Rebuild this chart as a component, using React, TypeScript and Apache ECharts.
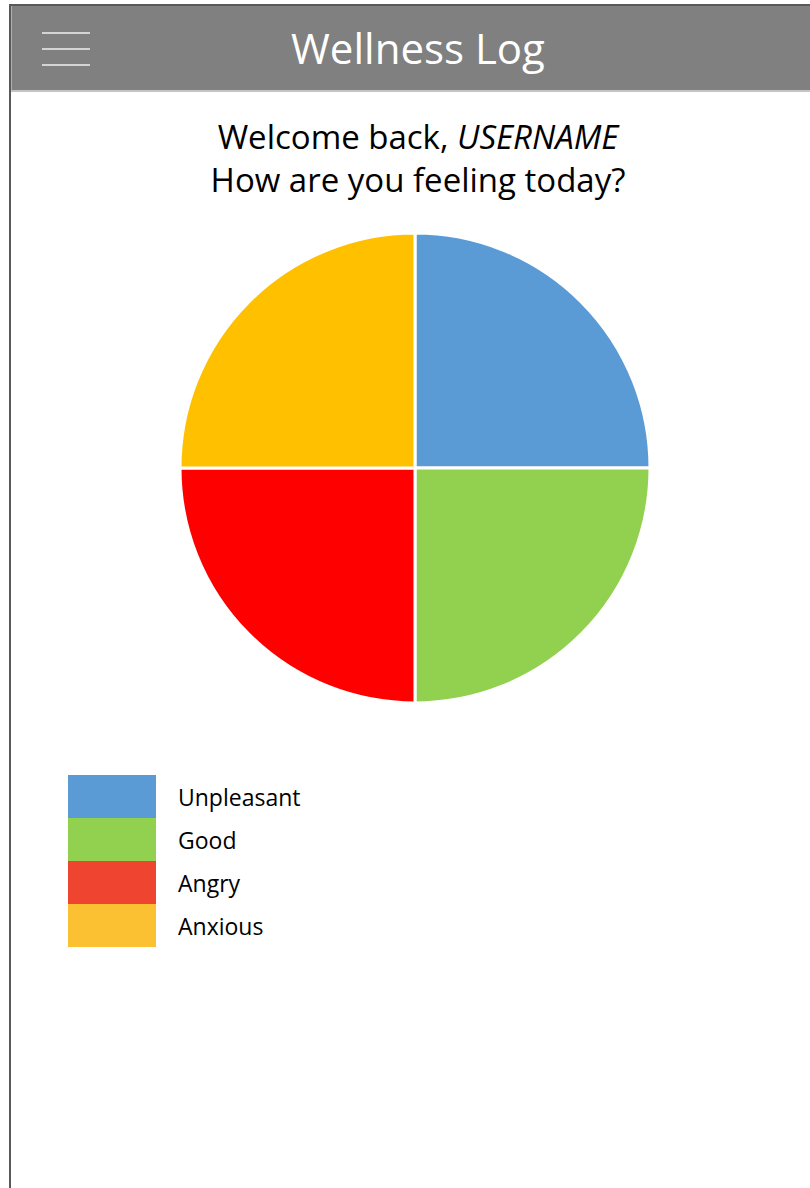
import React, { useEffect, useRef } from "react";
import * as echarts from "echarts";

const categories = ["Unpleasant", "Good", "Angry", "Anxious"];
const values = [25, 25, 25, 25];
const sliceColors = ["#5B9BD5", "#92D050", "#FF0000", "#FFC000"];
const legendColors = ["#5B9BD5", "#92D050", "#EE4430", "#FBC133"];
const headerTitle = "Wellness Log";
const welcomeText = "Welcome back, ";
const userName = "USERNAME";
const questionText = "How are you feeling today?";

const FONT = "'Open Sans', 'Noto Sans', sans-serif";

export default function App() {
  const ref = useRef<HTMLDivElement>(null);

  useEffect(() => {
    if (!ref.current) return;
    const chart = echarts.init(ref.current, null, { renderer: "svg" });
    const option: any = {
      animation: false,
      backgroundColor: "#ffffff",
      title: [
        {
          text: headerTitle,
          left: 413,
          top: 21,
          textAlign: "center",
          textStyle: { color: "#ffffff", fontSize: 42, fontWeight: "normal", fontFamily: FONT },
        },
        {
          text: `{a|${welcomeText}}{b|${userName}}\n{a|${questionText}}`,
          left: 413,
          top: 110,
          textAlign: "center",
          textStyle: {
            fontWeight: "normal",
            rich: {
              a: { fontSize: 33, color: "#000", fontFamily: FONT, fontWeight: "normal", lineHeight: 43 },
              b: { fontSize: 33, color: "#000", fontFamily: FONT, fontWeight: "normal", fontStyle: "italic", lineHeight: 43 },
            },
          },
        },
      ],
      legend: {
        orient: "vertical",
        left: 68,
        top: 775,
        padding: 0,
        itemGap: 0,
        itemWidth: 88,
        itemHeight: 43,
        icon: "rect",
        selectedMode: false,
        itemStyle: { borderWidth: 0 },
        textStyle: { fontSize: 23, color: "#000", fontFamily: FONT, padding: [2, 0, 0, 17] },
        data: categories.map((c, i) => ({
          name: c,
          itemStyle: { color: legendColors[i], borderWidth: 0 },
        })),
      },
      graphic: [
        { type: "rect", shape: { x: 11, y: 6, width: 799, height: 84 }, style: { fill: "#808080" }, silent: true },
        { type: "rect", shape: { x: 11, y: 90, width: 799, height: 2 }, style: { fill: "#C4C4C4" }, silent: true },
        { type: "rect", shape: { x: 11, y: 6, width: 1, height: 84 }, style: { fill: "#B0B0B0" }, silent: true },
        { type: "rect", shape: { x: 9, y: 4, width: 801, height: 2 }, style: { fill: "#595959" }, silent: true },
        { type: "rect", shape: { x: 9, y: 4, width: 2, height: 1184 }, style: { fill: "#595959" }, silent: true },
        { type: "rect", shape: { x: 42, y: 32, width: 48, height: 2 }, style: { fill: "#D4D4D4" }, silent: true },
        { type: "rect", shape: { x: 42, y: 48, width: 48, height: 2 }, style: { fill: "#D4D4D4" }, silent: true },
        { type: "rect", shape: { x: 42, y: 64, width: 48, height: 2 }, style: { fill: "#D4D4D4" }, silent: true },
      ],
      series: [
        {
          type: "pie",
          center: [415, 468],
          radius: [0, 235],
          startAngle: 90,
          clockwise: true,
          label: { show: false },
          labelLine: { show: false },
          emphasis: { disabled: true },
          itemStyle: { borderColor: "#ffffff", borderWidth: 3 },
          data: categories.map((c, i) => ({
            name: c,
            value: values[i],
            itemStyle: { color: sliceColors[i] },
          })),
        },
      ],
    };
    chart.setOption(option);
    return () => chart.dispose();
  }, []);

  return (
    <div
      ref={ref}
      style={{ position: "absolute", left: 0, top: 0, width: 810, height: 1188 }}
    />
  );
}
